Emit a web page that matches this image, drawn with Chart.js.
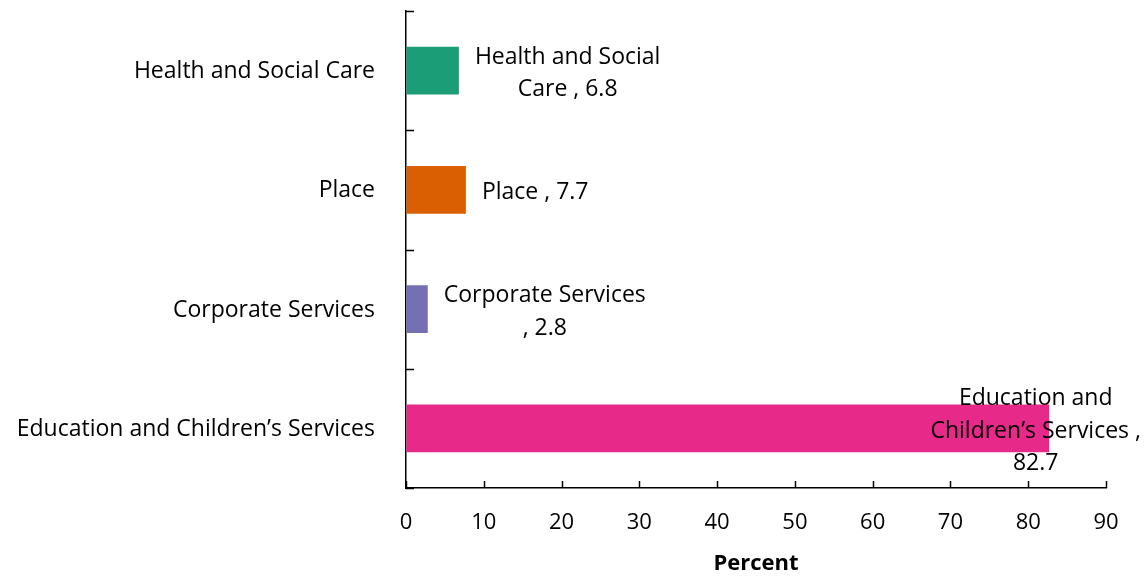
<!DOCTYPE html>
<html>
<head>
<meta charset="utf-8">
<script src="https://cdn.jsdelivr.net/npm/chart.js@4"></script>
<style>
  html, body { margin: 0; padding: 0; background: #fff; }
  #wrap { width: 1147px; height: 578px; }
</style>
</head>
<body>
<div id="wrap"><canvas id="c" width="1147" height="578"></canvas></div>
<script>
// Share of spend by directorate
const categories = ['Health and Social Care', 'Place', 'Corporate Services', 'Education and Children\u2019s Services'];
const percentValues = [6.8, 7.7, 2.8, 82.7];
const barColours = ['#1b9e77', '#d95f02', '#7570b3', '#e7298a'];
const valueLabelLines = [
  ['Health and Social', 'Care , 6.8'],
  ['Place , 7.7'],
  ['Corporate Services', ', 2.8'],
  ['Education and', 'Children\u2019s Services ,', '82.7']
];
const xTickValues = [0, 10, 20, 30, 40, 50, 60, 70, 80, 90];

const FONT = '"Open Sans", Lato, sans-serif';
const TICK_SIZE = 22;
const LABEL_SIZE = 23;

// Category names, inward tick marks on both axes and the value labels beside each bar
const axisAndLabels = {
  id: 'axisAndLabels',
  afterDatasetsDraw(chart) {
    const ctx = chart.ctx;
    const xs = chart.scales.x;
    const area = chart.chartArea;
    const meta = chart.getDatasetMeta(0);
    ctx.save();
    ctx.strokeStyle = '#000';
    ctx.lineWidth = 1.5;
    // x ticks pointing up
    xTickValues.forEach(v => {
      const px = Math.round(xs.getPixelForValue(v)) + 0.5;
      ctx.beginPath();
      ctx.moveTo(px, area.bottom);
      ctx.lineTo(px, area.bottom - 7);
      ctx.stroke();
    });
    // y ticks at category boundaries pointing right
    const n = categories.length;
    const step = (area.bottom - area.top) / n;
    for (let i = 0; i <= n; i++) {
      const py = Math.round(area.top + i * step) + 0.5;
      ctx.beginPath();
      ctx.moveTo(area.left, py);
      ctx.lineTo(area.left + 8, py);
      ctx.stroke();
    }
    ctx.fillStyle = '#000';
    ctx.font = LABEL_SIZE + 'px ' + FONT;
    ctx.textBaseline = 'middle';
    // category names to the left of the axis
    ctx.textAlign = 'right';
    meta.data.forEach((bar, i) => ctx.fillText(categories[i], area.left - 31, bar.y + 1));
    // value labels
    ctx.textAlign = 'center';
    const lineH = 32.5;
    meta.data.forEach((bar, i) => {
      const lines = valueLabelLines[i];
      const w = Math.max(...lines.map(l => ctx.measureText(l).width));
      let cx = bar.x + 16 + w / 2;
      const maxRight = chart.width - 6;
      if (cx + w / 2 > maxRight) cx = maxRight - w / 2;
      const y0 = bar.y + 3 - (lines.length - 1) * lineH / 2;
      lines.forEach((l, k) => ctx.fillText(l, cx, y0 + k * lineH));
    });
    ctx.restore();
  }
};

new Chart(document.getElementById('c'), {
  type: 'bar',
  data: {
    labels: categories,
    datasets: [{
      data: percentValues,
      backgroundColor: barColours,
      borderWidth: 0,
      categoryPercentage: 0.4,
      barPercentage: 1.0
    }]
  },
  options: {
    indexAxis: 'y',
    responsive: false,
    animation: false,
    layout: { padding: { top: 11, right: 41, bottom: 0, left: 0 } },
    plugins: { legend: { display: false }, tooltip: { enabled: false } },
    scales: {
      x: {
        min: 0, max: 90,
        ticks: { stepSize: 10, color: '#000', font: { family: FONT, size: TICK_SIZE }, padding: 22 },
        grid: { display: true, drawOnChartArea: false, drawTicks: false },
        border: { display: true, color: '#000', width: 1.5 },
        title: { display: true, text: 'Percent', color: '#000', font: { family: FONT, size: 22, weight: 'bold' }, padding: { top: 6, bottom: 1 } },
        afterFit(scale) { scale.height = 90; }
      },
      y: {
        offset: true,
        ticks: { display: false },
        grid: { display: true, drawOnChartArea: false, drawTicks: false },
        border: { display: true, color: '#000', width: 1.5 },
        afterFit(scale) { scale.width = 406; }
      }
    }
  },
  plugins: [axisAndLabels]
});
</script>
</body>
</html>
